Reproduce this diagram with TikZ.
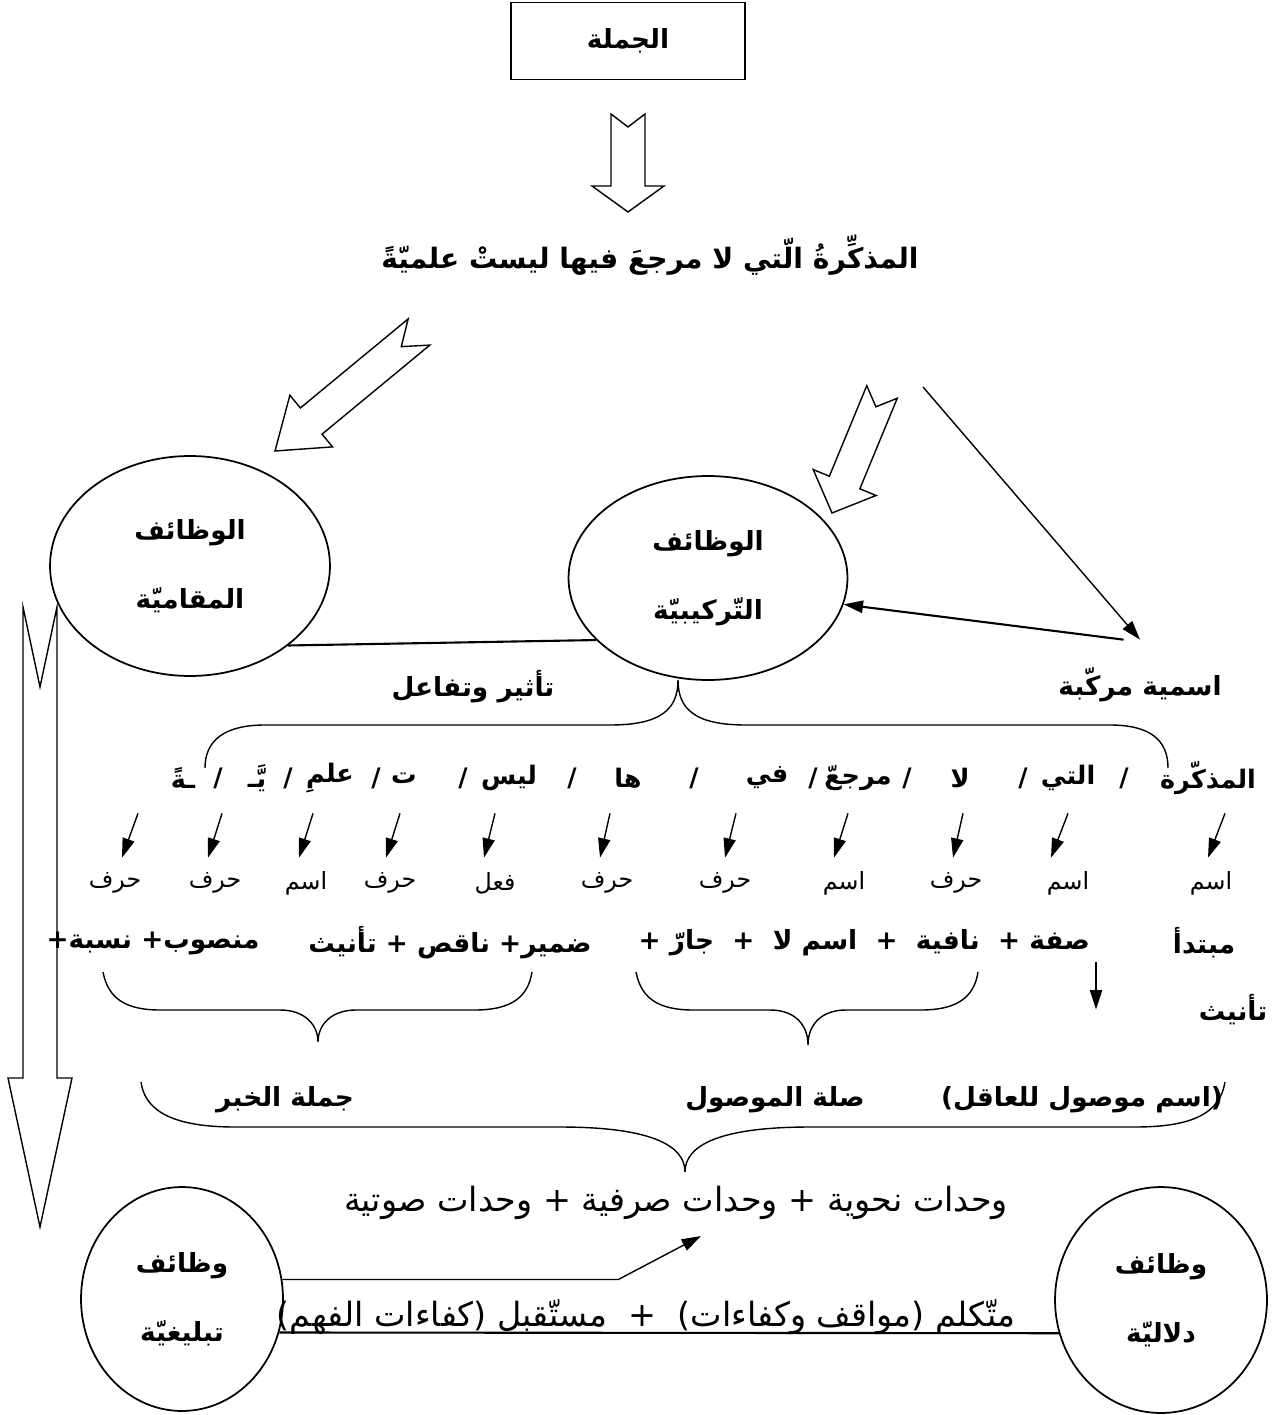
\documentclass[tikz,border=0pt]{standalone}
\usepackage{fontspec}
\usetikzlibrary{arrows.meta,shapes.geometric,calc,positioning}
\newfontfamily\arabicfont[Script=Arabic]{DejaVu Sans}
\TeXXeTstate=1
\newcommand{\rl}[1]{\beginR #1\endR}
\newcommand{\blockarrow}[6]{%
  \coordinate (bh) at ($(#2)!#5!(#1)$);
  \draw[thick] ($(#1)!#3!90:(#2)$) -- ($(bh)!#3!90:(#2)$) -- ($(bh)!#4!90:(#2)$) -- (#2)
    -- ($(bh)!#4!-90:(#2)$) -- ($(bh)!#3!-90:(#2)$) -- ($(#1)!#3!-90:(#2)$) -- ($(#1)!#6!(#2)$) -- cycle;
}
\tikzset{
  ar/.style={font=\arabicfont\bfseries\fontsize{15}{18}\selectfont},
  arl/.style={font=\arabicfont\fontsize{19}{22}\selectfont},
  oval/.style={ellipse, draw, line width=1pt, align=center, inner sep=0pt, font=\arabicfont\bfseries\fontsize{15}{39}\selectfont},
  seg/.style={font=\arabicfont\bfseries\fontsize{14.5}{18}\selectfont, minimum height=1.4cm},
  cat/.style={font=\arabicfont\fontsize{13.5}{16}\selectfont, minimum height=1cm},
}
\begin{document}
\begin{tikzpicture}[x=0.02cm,y=-0.02cm,>={Triangle[length=11pt,width=7pt]}]
      \useasboundingbox (0,0) rectangle (1271,1415);
      \node[draw, thick, minimum width=4.68cm, minimum height=1.54cm, ar] at (628,41) (jumla) {\rl{الجملة}};
      \node[ar, font=\arabicfont\bfseries\fontsize{16}{20}\selectfont] at (650,255) (title) {\rl{المذكِّرةُ الّتي لا مرجعَ فيها ليستْ علميّةً}};
      \coordinate (a1t) at (628,114);
      \coordinate (a1h) at (628,212);
      \coordinate (a2t) at (419,332);
      \coordinate (a2h) at (275,451);
      \coordinate (a3t) at (882,392);
      \coordinate (a3h) at (832,513);
      \coordinate (a4t) at (40,607);
      \coordinate (a4h) at (40,1227);
      \coordinate (c1) at (923,387);
      \blockarrow{a1t}{a1h}{0.34cm}{0.72cm}{0.52cm}{0.26cm}
      \blockarrow{a2t}{a2h}{0.34cm}{0.67cm}{0.94cm}{0.46cm}
      \blockarrow{a3t}{a3h}{0.33cm}{0.68cm}{0.66cm}{0.32cm}
      \blockarrow{a4t}{a4h}{0.34cm}{0.64cm}{2.98cm}{1.6cm}
      \node[oval, minimum width=5.6cm, minimum height=4.4cm] at (190,566) (maqam) {\rl{الوظائف}\\\rl{المقاميّة}};
      \node[oval, minimum width=5.58cm, minimum height=4.08cm] at (708,578) (tarkib) {\rl{الوظائف}\\\rl{التّركيبيّة}};
      \node[ar, minimum height=1.8cm] at (1140,685) (murakkaba) {\rl{اسمية مركّبة}};
      \node[ar] at (473,687) (taathir) {\rl{تأثير وتفاعل}};
      \draw[very thick] (maqam.-39) -- (tarkib.209);
      \draw[->, thick] (c1) -- (murakkaba.north);
      \draw[->, very thick] (murakkaba.110) -- (tarkib.-11);
      \draw[thick] (205,768) .. controls (205,740) and (225,725) .. (265,725) -- (610,725) .. controls (660,725) and (678,710) .. (678,680)
        .. controls (678,710) and (696,725) .. (746,725) -- (1110,725) .. controls (1150,725) and (1168,740) .. (1168,768);
      \node[seg] at (1208,778) (w1) {\rl{المذكّرة}};
      \node[seg] at (1068,778) (w2) {\rl{التي}};
      \node[seg] at (960,778) (w3) {\rl{لا}};
      \node[seg] at (858,778) (w4) {\rl{مرجعّ}};
      \node[seg] at (767,778) (w5) {\rl{في}};
      \node[seg] at (628,778) (w6) {\rl{ها}};
      \node[seg] at (509,778) (w7) {\rl{ليس}};
      \node[seg] at (404,778) (w8) {\rl{ت}};
      \node[seg] at (330,778) (w9) {\rl{علمِ}};
      \node[seg] at (257,778) (w10) {\rl{يَّـ}};
      \node[seg] at (183,778) (w11) {\rl{ـةً}};
      \node[seg] at (1124,778) (s1) {/};
      \node[seg] at (1023,778) (s2) {/};
      \node[seg] at (907,778) (s3) {/};
      \node[seg] at (813,778) (s4) {/};
      \node[seg] at (694,778) (s5) {/};
      \node[seg] at (572,778) (s6) {/};
      \node[seg] at (463,778) (s7) {/};
      \node[seg] at (376,778) (s8) {/};
      \node[seg] at (288,778) (s9) {/};
      \node[seg] at (218,778) (s10) {/};
      \node[cat] at (1211,883) (k1) {\rl{اسم}};
      \node[cat] at (1068,883) (k2) {\rl{اسم}};
      \node[cat] at (956,883) (k3) {\rl{حرف}};
      \node[cat] at (844,883) (k4) {\rl{اسم}};
      \node[cat] at (725,883) (k5) {\rl{حرف}};
      \node[cat] at (607,883) (k6) {\rl{حرف}};
      \node[cat] at (495,883) (k7) {\rl{فعل}};
      \node[cat] at (390,883) (k8) {\rl{حرف}};
      \node[cat] at (306,883) (k9) {\rl{اسم}};
      \node[cat] at (215,883) (k10) {\rl{حرف}};
      \node[cat] at (115,883) (k11) {\rl{حرف}};
      \draw[->, thick] ([xshift=0.34cm]w1.south) -- ([xshift=-0.06cm]k1.north);
      \draw[->, thick] (w2.south) -- ([xshift=-0.34cm]k2.north);
      \draw[->, thick] ([xshift=0.06cm]w3.south) -- ([xshift=-0.06cm]k3.north);
      \draw[->, thick] ([xshift=-0.2cm]w4.south) -- ([xshift=-0.2cm]k4.north);
      \draw[->, thick] ([xshift=-0.62cm]w5.south) -- (k5.north);
      \draw[->, thick] ([xshift=-0.36cm]w6.south) -- ([xshift=-0.14cm]k6.north);
      \draw[->, thick] ([xshift=-0.28cm]w7.south) -- ([xshift=-0.22cm]k7.north);
      \draw[->, thick] ([xshift=-0.08cm]w8.south) -- ([xshift=-0.08cm]k8.north);
      \draw[->, thick] ([xshift=-0.34cm]w9.south) -- ([xshift=-0.14cm]k9.north);
      \draw[->, thick] ([xshift=-0.7cm]w10.south) -- ([xshift=-0.14cm]k10.north);
      \draw[->, thick] ([xshift=-0.9cm]w11.south) -- ([xshift=0.14cm]k11.north);
      \node[ar] at (1204,943) (mubtada) {\rl{مبتدأ}};
      \node[ar, anchor=east] at (1096,943) (sifa) {\rl{صفة +\ \ نافية\ \ +\ \ اسم لا\ \ +\ \ جارّ +}};
      \node[ar] at (450,943) (damir) {\rl{ضمير+ ناقص + تأنيث}};
      \node[ar] at (153,943) (mansub) {\rl{منصوب+ نسبة+}};
      \node[ar] at (1233,1010) (tanith) {\rl{تأنيث}};
      \draw[->, thick] (sifa.south east) -- ++(0,47);
      \draw[thick] (103,972) .. controls (108,998) and (125,1010) .. (160,1010) -- (280,1010) .. controls (305,1010) and (318,1025) .. (318,1042)
        .. controls (318,1025) and (331,1010) .. (356,1010) -- (475,1010) .. controls (510,1010) and (528,998) .. (532,972);
      \draw[thick] (636,972) .. controls (641,998) and (658,1010) .. (693,1010) -- (770,1010) .. controls (795,1010) and (808,1025) .. (808,1045)
        .. controls (808,1025) and (821,1010) .. (846,1010) -- (921,1010) .. controls (956,1010) and (974,998) .. (978,972);
      \draw[thick] (141,1082) .. controls (145,1112) and (175,1127) .. (235,1127) -- (560,1127) .. controls (650,1127) and (685,1145) .. (685,1172)
        .. controls (685,1145) and (720,1127) .. (810,1127) -- (1135,1127) .. controls (1195,1127) and (1220,1112) .. (1225,1082);
      \node[ar] at (285,1100) (khabar) {\rl{جملة الخبر}};
      \node[ar] at (775,1100) (sila) {\rl{صلة الموصول}};
      \node[ar] at (1082,1100) (mawsul) {\rl{(اسم موصول للعاقل)}};
      \node[arl] at (676,1203) (wahdat) {\rl{وحدات نحوية + وحدات صرفية + وحدات صوتية}};
      \node[oval, minimum width=4.04cm, minimum height=4.48cm] at (182,1299) (tablighi) {\rl{وظائف}\\\rl{تبليغيّة}};
      \node[oval, minimum width=4.24cm, minimum height=4.52cm] at (1161,1300) (dalali) {\rl{وظائف}\\\rl{دلاليّة}};
      \draw[->, thick] (tablighi.11) -- ++(336,0) -- ($(wahdat.south)+(25,10)$);
      \draw[very thick] (tablighi.-19.5) -- (dalali.198.6);
      \node[arl] at (646,1317) (mutakallim) {\rl{متّكلم (مواقف وكفاءات)\ \ +\ \ مستّقبل (كفاءات الفهم)}};
\end{tikzpicture}
\end{document}
